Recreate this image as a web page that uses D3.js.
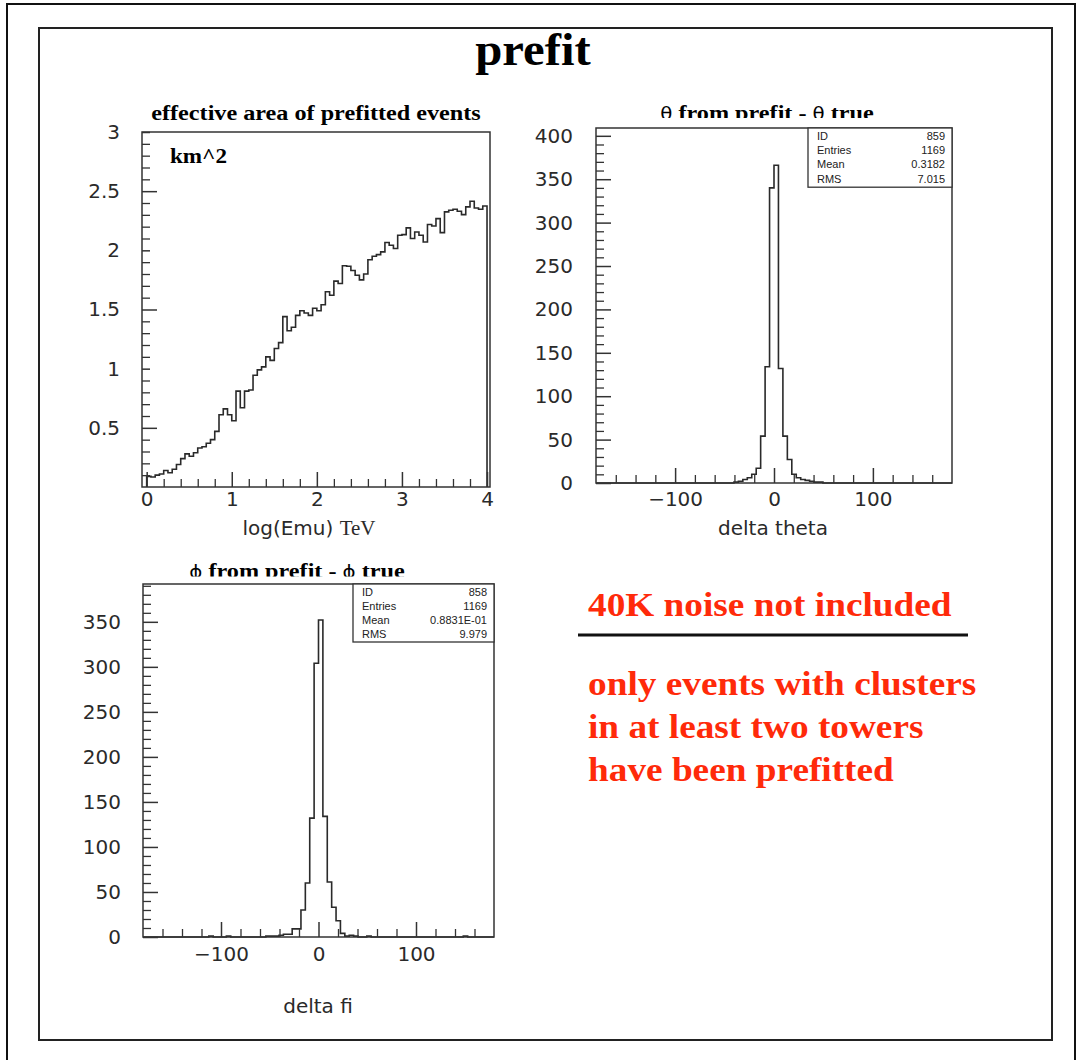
<!DOCTYPE html>
<html><head><meta charset="utf-8">
<script src="https://cdn.jsdelivr.net/npm/d3@7"></script>
<style>
body{margin:0;background:#fff}
.tl text{font-family:"DejaVu Sans",sans-serif;font-size:20px;fill:#2a2a2a}
</style>
</head><body><svg id="c" width="1079" height="1060"></svg>
<script>
// ---------- data ----------
const effAreaRange = [0, 4];           // log(Emu) TeV, 80 bins of 0.05
const effArea = [
  0.09,0.085,0.10,0.11,0.14,0.12,0.15,0.19,0.24,0.28,
  0.26,0.29,0.33,0.34,0.37,0.40,0.47,0.61,0.66,0.61,
  0.56,0.81,0.67,0.81,0.82,0.945,0.99,1.015,1.10,1.07,
  1.17,1.22,1.44,1.32,1.35,1.45,1.49,1.47,1.45,1.51,
  1.49,1.54,1.65,1.62,1.74,1.72,1.87,1.865,1.83,1.79,
  1.75,1.80,1.92,1.95,1.964,1.987,2.066,2.043,2.015,2.128,
  2.133,2.19,2.10,2.155,2.128,2.07,2.218,2.206,2.268,2.15,
  2.325,2.339,2.347,2.33,2.302,2.367,2.415,2.358,2.347,2.375];
const effYTicks = [0.5, 1, 1.5, 2, 2.5, 3];
const effXTicks = [0, 1, 2, 3, 4];

const angleRange = [-180, 180];        // 80 bins of 4.5 deg
const thetaCounts = [
  0,0,0,0,0,0,0,0,0,0, 0,0,0,0,0,0,0,0,0,0,
  0,0,0,0,0,0,0,0,0,0, 0,1,2,4,6,10,17,54,134,340,
  366,132,54,27,10,6,4,3,2,1, 1,0,0,0,0,0,0,0,0,0,
  0,0,0,0,0,0,0,0,0,0, 0,0,0,0,0,0,0,0,0,0];
const phiCounts = [
  0,0,0,0,0,0,0,0,0,0, 0,0,0,0,0,1,0,0,0,1,
  0,0,0,0,0,0,0,0,1,1, 1,2,3,3,9,9,30,60,132,304,
  352,134,61,33,18,4,1,2,1,0, 0,1,0,0,0,0,0,0,0,0,
  0,0,0,0,0,0,0,0,0,0, 0,0,0,1,0,0,0,0,0,0];
const angleXTicks = [-100, 0, 100];
const countYTicks = [0, 50, 100, 150, 200, 250, 300, 350, 400];

const thetaStats = [["ID","859"],["Entries","1169"],["Mean","0.3182"],["RMS","7.015"]];
const phiStats   = [["ID","858"],["Entries","1169"],["Mean","0.8831E-01"],["RMS","9.979"]];

const noteHead = "40K noise not included";
const noteLines = ["only events with clusters", "in at least two towers", "have been prefitted"];

// ---------- drawing ----------
const svg = d3.select("#c");
const serif = '"Liberation Serif","Times New Roman",serif';
const sans = '"Liberation Sans",Arial,sans-serif';
const dsans = '"DejaVu Sans",sans-serif';

// text stretched horizontally around its anchor point
function stext(parent, x, y, sx, anchor){
  return parent.append("g").attr("transform",`translate(${x},${y}) scale(${sx},1)`)
    .append("text").attr("x",0).attr("y",0).attr("text-anchor",anchor||"start");
}

svg.append("rect").attr("x",7).attr("y",4).attr("width",1068).attr("height",1080)
  .attr("fill","none").attr("stroke","#111").attr("stroke-width",2);
svg.append("rect").attr("x",39).attr("y",28).attr("width",1013).attr("height",1012)
  .attr("fill","none").attr("stroke","#222").attr("stroke-width",2);

stext(svg, 533, 65, 1.06, "middle")
  .style("font-family",serif).style("font-weight","bold").style("font-size","46px").text("prefit");

function stepPoints(values, lo, hi){
  const w = (hi-lo)/values.length;
  const pts = [[lo,0]];
  values.forEach((v,i)=>pts.push([lo+i*w, v]));
  pts.push([hi, values[values.length-1]]);
  pts.push([hi, 0]);
  return pts;
}

function panel(o){
  const g = svg.append("g");
  const x = d3.scaleLinear().domain(o.xDomain).range(o.xRange);
  const y = d3.scaleLinear().domain(o.yDomain).range(o.yRange);
  const line = d3.line().x(d=>x(d[0])).y(d=>y(d[1])).curve(d3.curveStepAfter);
  g.append("path").datum(stepPoints(o.values, o.binRange[0], o.binRange[1]))
    .attr("d", line).attr("fill","none").attr("stroke","#2a2a2a").attr("stroke-width",1.6);
  g.append("g").attr("transform",`translate(${o.xRange[0]},0)`)
    .call(d3.axisLeft(y).tickValues(o.yMinor).tickSizeInner(-8).tickSizeOuter(0).tickFormat(""))
    .call(s=>s.select(".domain").remove()).selectAll("line").attr("stroke","#333").attr("stroke-width",1.3);
  g.append("g").attr("transform",`translate(0,${o.yRange[0]})`)
    .call(d3.axisBottom(x).tickValues(o.xMinor).tickSizeInner(-8).tickSizeOuter(0).tickFormat(""))
    .call(s=>s.select(".domain").remove()).selectAll("line").attr("stroke","#333").attr("stroke-width",1.3);
  const ya = g.append("g").attr("class","tl").attr("transform",`translate(${o.xRange[0]},0)`)
    .call(d3.axisLeft(y).tickValues(o.yTicks).tickSizeInner(-15).tickSizeOuter(0).tickPadding(o.yPad).tickFormat(d3.format("")));
  ya.select(".domain").remove();
  ya.selectAll("line").attr("stroke","#333").attr("stroke-width",1.5);
  if (o.yLong) ya.selectAll("line").attr("x2", d=>o.yLong(d) ? 15 : 8);
  const xa = g.append("g").attr("class","tl").attr("transform",`translate(0,${o.yRange[0]})`)
    .call(d3.axisBottom(x).tickValues(o.xTicks).tickSizeInner(-15).tickSizeOuter(0).tickPadding(o.xPad).tickFormat(d3.format("")));
  xa.select(".domain").remove();
  xa.selectAll("line").attr("stroke","#333").attr("stroke-width",1.5);
  xa.selectAll("text").text(d=>d<0 ? "\u2212"+Math.abs(d) : d);
  g.append("rect").attr("x",o.xRange[0]).attr("y",o.yRange[1])
    .attr("width",o.xRange[1]-o.xRange[0]).attr("height",o.yRange[0]-o.yRange[1])
    .attr("fill","none").attr("stroke","#333").attr("stroke-width",1.5);
  return {g,x,y};
}

// --- effective area panel
const p1 = panel({
  values: effArea, binRange: effAreaRange,
  xDomain:[-0.055,4.035], xRange:[142,490], yDomain:[0,3], yRange:[487,132],
  yTicks: effYTicks, yMinor: d3.range(1,30).map(i=>+(i/10).toFixed(1)).filter(v=>!effYTicks.includes(v)),
  xTicks: effXTicks, xMinor: d3.range(0,21).map(i=>+(i/5).toFixed(1)).filter(v=>!effXTicks.includes(v)),
  yPad: 22, xPad: 5,
  yLong: d=> (d*2)%2===1
});
stext(p1.g, 316, 120, 1.1, "middle")
  .style("font-family",serif).style("font-weight","bold").style("font-size","22px")
  .text("effective area of prefitted events");
stext(p1.g, 170, 163, 1.1)
  .style("font-family",serif).style("font-weight","bold").style("font-size","21px").text("km^2");
const xl1 = p1.g.append("text").attr("x",309).attr("y",535).attr("text-anchor","middle").attr("fill","#2a2a2a");
xl1.append("tspan").style("font-family",dsans).style("font-size","20px").text("log(Emu) ");
xl1.append("tspan").style("font-family",serif).style("font-size","21px").text("TeV");

// --- theta panel
const p2 = panel({
  values: thetaCounts, binRange: angleRange,
  xDomain:[-180,180], xRange:[596,952], yDomain:[0,409], yRange:[483,128],
  yTicks: countYTicks, yMinor: d3.range(0,410,10).filter(v=>v%50!==0),
  xTicks: angleXTicks, xMinor: d3.range(-160,161,20).filter(v=>v%100!==0),
  yPad: 23, xPad: 9
});
function statsBox(g, stats, x0, x1, y0, rowH){
  g.append("rect").attr("x",x0).attr("y",y0).attr("width",x1-x0).attr("height",rowH*stats.length+2)
    .attr("fill","#fff").attr("stroke","#333").attr("stroke-width",1.3);
  stats.forEach((s,i)=>{
    const yy = y0 + rowH*(i+0.5) + 4.5;
    g.append("text").attr("x",x0+9).attr("y",yy).style("font-family",sans).style("font-size","11px").attr("fill","#222").text(s[0]);
    g.append("text").attr("x",x1-7).attr("y",yy).attr("text-anchor","end").style("font-family",sans).style("font-size","11px").attr("fill","#222").text(s[1]);
  });
}
statsBox(p2.g, thetaStats, 808, 952, 128, 14.3);
function clippedTitle(g, id, sym, cx, base, clipY){
  svg.append("clipPath").attr("id",id).append("rect").attr("x",0).attr("y",0).attr("width",1079).attr("height",clipY);
  const outer = g.append("g").attr("clip-path",`url(#${id})`);
  const t = stext(outer, cx, base, 1.1, "middle")
    .style("font-family",serif).style("font-weight","bold").style("font-size","22px");
  t.append("tspan").style("font-family",dsans).style("font-weight","normal").style("font-size","18px").text(sym);
  t.append("tspan").text(" from prefit - ");
  t.append("tspan").style("font-family",dsans).style("font-weight","normal").style("font-size","18px").text(sym);
  t.append("tspan").text(" true");
}
clippedTitle(p2.g, "clipT", "\u03B8", 767, 120, 118);
p2.g.append("text").attr("x",773).attr("y",535).attr("text-anchor","middle")
  .style("font-family",dsans).style("font-size","20px").attr("fill","#2a2a2a").text("delta  theta");

// --- phi panel
const p3 = panel({
  values: phiCounts, binRange: angleRange,
  xDomain:[-180,180], xRange:[143,494], yDomain:[0,392], yRange:[937,584],
  yTicks: countYTicks.filter(v=>v<=350), yMinor: d3.range(0,392,10).filter(v=>v%50!==0),
  xTicks: angleXTicks, xMinor: d3.range(-160,161,20).filter(v=>v%100!==0),
  yPad: 22, xPad: 10
});
statsBox(p3.g, phiStats, 353, 494, 584, 14);
clippedTitle(p3.g, "clipP", "\u03D5", 297, 578, 576.5);
p3.g.append("text").attr("x",318).attr("y",1013).attr("text-anchor","middle")
  .style("font-family",dsans).style("font-size","20px").attr("fill","#2a2a2a").text("delta  fi");

// --- notes
const red = "#ff2a0a";
stext(svg, 588, 616, 1.13).style("font-family",serif).style("font-weight","bold")
  .style("font-size","33px").attr("fill",red).text(noteHead);
svg.append("line").attr("x1",578).attr("x2",968).attr("y1",635).attr("y2",635).attr("stroke","#111").attr("stroke-width",3);
noteLines.forEach((d,i)=>{
  stext(svg, 588, 695+i*43, 1.13).style("font-family",serif).style("font-weight","bold")
    .style("font-size","33px").attr("fill",red).text(d);
});
</script>
</body></html>
